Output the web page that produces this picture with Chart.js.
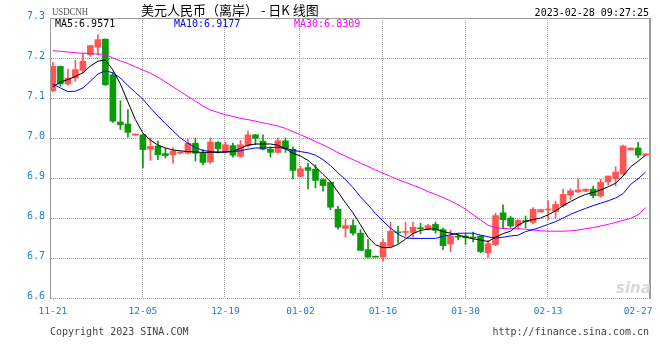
<!DOCTYPE html>
<html>
<head>
<meta charset="utf-8">
<script src="https://cdn.jsdelivr.net/npm/chart.js@4.4.0/dist/chart.umd.min.js"></script>
<style>
  html, body { margin: 0; padding: 0; background: #fff; }
  #wrap { position: relative; width: 660px; height: 360px; background: #fff; overflow: hidden; }
  #c { position: absolute; left: 0; top: 0; }
  .t { position: absolute; white-space: nowrap; font-family: "DejaVu Sans Mono", monospace; font-size: 10px; line-height: 10px; }
</style>
</head>
<body>
<div id="wrap">
  <canvas id="c" width="660" height="360"></canvas>
  <div class="t" style="left:52px;top:6px;font-family:'Liberation Serif',serif;font-size:11px;line-height:11px;color:#555;transform:scaleX(0.8);transform-origin:left top;">USDCNH</div>
  <div class="t" style="left:141px;top:2px;font-family:'Noto Sans CJK SC',sans-serif;font-size:13px;line-height:15px;color:#000;white-space:pre;">美元人民币（离岸） - 日K 线图</div>
  <div class="t" style="right:11px;top:8px;color:#000;">2023-02-28 09:27:25</div>
  <div class="t" id="l5" style="left:55px;top:19px;color:#000;"></div>
  <div class="t" id="l10" style="left:174px;top:19px;color:#0000ff;"></div>
  <div class="t" id="l30" style="left:294px;top:19px;color:#ff00ff;"></div>
  <div class="t" style="left:50px;top:327px;color:#444;">Copyright 2023 SINA.COM</div>
  <div class="t" style="right:11px;top:327px;color:#444;">http://finance.sina.com.cn</div>
  <div class="t" style="left:616px;top:281px;font-family:'DejaVu Sans',sans-serif;font-size:15px;line-height:15px;font-weight:bold;font-style:italic;color:#d8d8d8;">sina</div>
</div>
<script>
const categories = [
  '11-21','11-22','11-23','11-24','11-25','11-26','11-28','11-29','11-30','12-01',
  '12-02','12-03','12-05','12-06','12-07','12-08','12-09','12-10','12-12','12-13',
  '12-14','12-15','12-16','12-19','12-20','12-21','12-22','12-23','12-26','12-27',
  '12-28','12-29','12-30','01-02','01-03','01-04','01-05','01-06','01-07','01-09',
  '01-10','01-11','01-12','01-13','01-16','01-17','01-18','01-19','01-20','01-21',
  '01-23','01-24','01-25','01-26','01-27','01-30','01-31','02-01','02-02','02-03',
  '02-04','02-06','02-07','02-08','02-09','02-10','02-13','02-14','02-15','02-16',
  '02-17','02-18','02-20','02-21','02-22','02-23','02-24','02-25','02-27','02-28'
];
const tickLabels = ['11-21','12-05','12-19','01-02','01-16','01-30','02-13','02-27'];
const yTicks = [6.6, 6.7, 6.8, 6.9, 7.0, 7.1, 7.2, 7.3];

const openV = [
  7.118,7.179,7.135,7.150,7.169,7.208,7.227,7.247,7.158,7.040,
  7.035,7.007,7.008,6.972,6.980,6.961,6.958,6.962,6.962,6.987,
  6.962,6.940,6.989,6.965,6.981,6.954,6.981,7.008,6.992,6.972,
  6.964,6.993,6.972,6.904,6.926,6.922,6.896,6.889,6.822,6.774,
  6.781,6.762,6.721,6.704,6.702,6.729,6.765,6.764,6.764,6.774,
  6.772,6.784,6.771,6.735,6.753,6.755,6.752,6.755,6.713,6.733,
  6.813,6.800,6.781,6.792,6.789,6.815,6.820,6.816,6.831,6.857,
  6.865,6.867,6.872,6.855,6.890,6.898,6.910,6.970,6.975,6.957
];
const highV = [
  7.189,7.180,7.172,7.194,7.212,7.231,7.258,7.248,7.163,7.093,
  7.071,7.010,7.010,7.000,6.992,6.975,6.976,6.966,6.997,7.000,
  6.971,7.000,6.991,6.989,6.987,6.994,7.017,7.009,7.008,6.978,
  7.000,7.000,6.978,6.929,6.937,6.933,6.898,6.892,6.829,6.797,
  6.796,6.771,6.746,6.705,6.747,6.789,6.779,6.789,6.789,6.787,
  6.784,6.790,6.775,6.770,6.760,6.760,6.765,6.756,6.744,6.812,
  6.833,6.804,6.796,6.805,6.826,6.822,6.843,6.842,6.872,6.873,
  6.897,6.873,6.880,6.897,6.905,6.928,6.982,6.975,6.989,6.962
];
const lowV = [
  7.115,7.129,7.132,7.142,7.162,7.204,7.208,7.131,7.039,7.021,
  7.002,7.007,6.925,6.944,6.946,6.950,6.937,6.960,6.960,6.942,
  6.933,6.936,6.962,6.962,6.952,6.952,6.977,6.983,6.970,6.952,
  6.962,6.964,6.898,6.903,6.873,6.875,6.867,6.821,6.772,6.752,
  6.757,6.719,6.700,6.702,6.692,6.729,6.737,6.754,6.752,6.761,
  6.770,6.762,6.721,6.716,6.745,6.734,6.740,6.713,6.701,6.731,
  6.773,6.775,6.773,6.775,6.785,6.815,6.796,6.800,6.828,6.845,
  6.864,6.866,6.850,6.852,6.883,6.880,6.908,6.970,6.951,6.956
];
const closeV = [
  7.179,7.135,7.150,7.171,7.192,7.231,7.246,7.133,7.042,7.033,
  7.014,7.010,6.971,6.979,6.958,6.956,6.967,6.965,6.987,6.962,
  6.939,6.990,6.973,6.983,6.957,6.983,7.008,6.999,6.972,6.964,
  6.993,6.973,6.919,6.923,6.919,6.894,6.881,6.827,6.777,6.781,
  6.762,6.719,6.702,6.702,6.739,6.767,6.763,6.765,6.777,6.773,
  6.781,6.769,6.731,6.755,6.752,6.751,6.750,6.716,6.736,6.806,
  6.796,6.780,6.794,6.791,6.822,6.821,6.821,6.834,6.859,6.868,
  6.870,6.872,6.856,6.889,6.905,6.915,6.980,6.975,6.957,6.960
];
const ma5 = [
  7.128,7.140,7.146,7.154,7.163,7.180,7.192,7.195,7.170,7.135,
  7.090,7.046,7.012,6.995,6.982,6.975,6.970,6.968,6.966,6.965,
  6.964,6.964,6.964,6.965,6.967,6.974,6.982,6.985,6.985,6.985,
  6.982,6.973,6.962,6.955,6.944,6.928,6.909,6.891,6.865,6.838,
  6.813,6.783,6.752,6.733,6.726,6.726,6.734,6.747,6.761,6.769,
  6.772,6.773,6.766,6.762,6.758,6.752,6.748,6.745,6.741,6.752,
  6.761,6.767,6.782,6.792,6.796,6.800,6.808,6.818,6.831,6.841,
  6.851,6.859,6.864,6.870,6.878,6.887,6.905,6.928,6.942,6.957
];
const ma10 = [
  7.135,7.125,7.116,7.117,7.125,7.142,7.160,7.168,7.163,7.150,
  7.131,7.114,7.097,7.075,7.055,7.036,7.018,7.000,6.987,6.976,
  6.969,6.966,6.965,6.965,6.966,6.968,6.972,6.975,6.975,6.976,
  6.977,6.974,6.969,6.966,6.963,6.957,6.946,6.931,6.913,6.896,
  6.876,6.853,6.833,6.811,6.792,6.775,6.760,6.750,6.749,6.749,
  6.749,6.749,6.754,6.758,6.762,6.762,6.762,6.757,6.753,6.750,
  6.752,6.755,6.757,6.766,6.771,6.777,6.784,6.791,6.800,6.809,
  6.817,6.824,6.831,6.837,6.843,6.850,6.861,6.884,6.898,6.915
];
const ma30 = [
  7.218,7.217,7.215,7.213,7.212,7.211,7.210,7.209,7.200,7.193,
  7.186,7.178,7.170,7.162,7.152,7.140,7.128,7.116,7.104,7.092,
  7.080,7.070,7.064,7.058,7.054,7.049,7.046,7.042,7.038,7.034,
  7.030,7.024,7.016,7.008,7.000,6.991,6.983,6.974,6.963,6.955,
  6.946,6.937,6.929,6.920,6.912,6.904,6.896,6.889,6.882,6.875,
  6.866,6.859,6.851,6.843,6.833,6.822,6.808,6.795,6.782,6.776,
  6.774,6.773,6.773,6.772,6.770,6.768,6.767,6.767,6.767,6.768,
  6.770,6.773,6.776,6.780,6.784,6.789,6.794,6.799,6.808,6.826
];
const maLegend = { ma5: '6.9571', ma10: '6.9177', ma30: '6.8309' };

document.getElementById('l5').textContent = 'MA5:' + maLegend.ma5;
document.getElementById('l10').textContent = 'MA10:' + maLegend.ma10;
document.getElementById('l30').textContent = 'MA30:' + maLegend.ma30;

const RED = '#ff5555', GREEN = '#0a9a0a';
const candleColors = closeV.map((c, i) => c >= openV[i] ? RED : GREEN);
const wickData = categories.map((d, i) => ({ x: i, y: [lowV[i], highV[i]] }));
const bodyData = categories.map((d, i) => ({ x: i, y: [openV[i], closeV[i]] }));
const lineData = arr => arr.map((v, i) => ({ x: i, y: v }));
const tickIdx = tickLabels.map(l => categories.indexOf(l));

const GRID = '#a0a0a0', FRAME = '#9a9a9a', BLUE = '#1a7fd2';

// dotted grid + solid frame, positioned through the chart's own scales
const framePlugin = {
  id: 'frame',
  beforeDatasetsDraw(chart) {
    const { ctx, chartArea: { left, right, top, bottom }, scales: { x, y } } = chart;
    ctx.save();
    ctx.fillStyle = GRID;
    yTicks.forEach(v => {
      if (v >= 7.3 - 1e-9) return;
      const py = Math.round(y.getPixelForValue(v));
      for (let px = Math.round(left); px < right; px += 2) ctx.fillRect(px, py, 1, 1);
    });
    tickIdx.forEach((v, k) => {
      if (k === 0 || k === tickIdx.length - 1) return;
      const px = Math.round(x.getPixelForValue(v)) - 1;
      for (let py = Math.round(top); py < bottom; py += 2) ctx.fillRect(px, py, 1, 1);
    });
    ctx.restore();
  },
  afterDraw(chart) {
    const { ctx, chartArea: { left, right, top, bottom } } = chart;
    ctx.save();
    ctx.fillStyle = FRAME;
    ctx.fillRect(Math.round(left) - 1, Math.round(top), 1, Math.round(bottom - top) + 1);
    ctx.fillRect(Math.round(left) - 1, Math.round(top), Math.round(right - left) + 2, 1);
    ctx.fillRect(Math.round(right), Math.round(top), 2, Math.round(bottom - top) + 1);
    ctx.restore();
  }
};

Chart.defaults.font.family = '"DejaVu Sans Mono", monospace';

new Chart(document.getElementById('c'), {
  data: {
    datasets: [
      { type: 'line', label: 'MA5', data: lineData(ma5), borderColor: '#000000', borderWidth: 1, pointRadius: 0, tension: 0, order: 0 },
      { type: 'line', label: 'MA10', data: lineData(ma10), borderColor: '#0000ff', borderWidth: 1, pointRadius: 0, tension: 0, order: 0 },
      { type: 'line', label: 'MA30', data: lineData(ma30), borderColor: '#ff00ff', borderWidth: 1, pointRadius: 0, tension: 0, order: 0 },
      { type: 'bar', label: 'wick', data: wickData, backgroundColor: candleColors, barThickness: 1, grouped: false, borderWidth: 0, order: 2 },
      { type: 'bar', label: 'body', data: bodyData, backgroundColor: candleColors, barThickness: 6, grouped: false, borderWidth: 0, minBarLength: 1, order: 1 }
    ]
  },
  options: {
    responsive: false,
    devicePixelRatio: 1,
    animation: false,
    events: [],
    layout: { padding: { top: 18, right: 11, bottom: 0, left: 0 } },
    plugins: { legend: { display: false }, tooltip: { enabled: false }, title: { display: false } },
    scales: {
      x: {
        type: 'linear',
        offset: false,
        min: -0.25,
        max: 79.45,
        afterBuildTicks(scale) { scale.ticks = tickIdx.map(v => ({ value: v })); },
        afterFit(scale) { scale.height = 62; scale.paddingLeft = 0; scale.paddingRight = 0; },
        ticks: {
          autoSkip: false, maxRotation: 0, minRotation: 0, padding: 8,
          color: BLUE, font: { size: 9.5 },
          callback: (v) => categories[v]
        },
        grid: { display: false, offset: false, drawTicks: false },
        border: { display: false }
      },
      y: {
        type: 'linear',
        min: 6.6,
        max: 7.3,
        afterBuildTicks(scale) { scale.ticks = yTicks.map(v => ({ value: v })); },
        afterFit(scale) { scale.width = 51; scale.paddingTop = 0; scale.paddingBottom = 0; },
        ticks: {
          padding: 6, color: BLUE, font: { size: 10 }, labelOffset: -2,
          callback: (v) => Number(v).toFixed(1)
        },
        grid: { display: false, drawTicks: false },
        border: { display: false }
      }
    }
  },
  plugins: [framePlugin]
});
</script>
</body>
</html>
